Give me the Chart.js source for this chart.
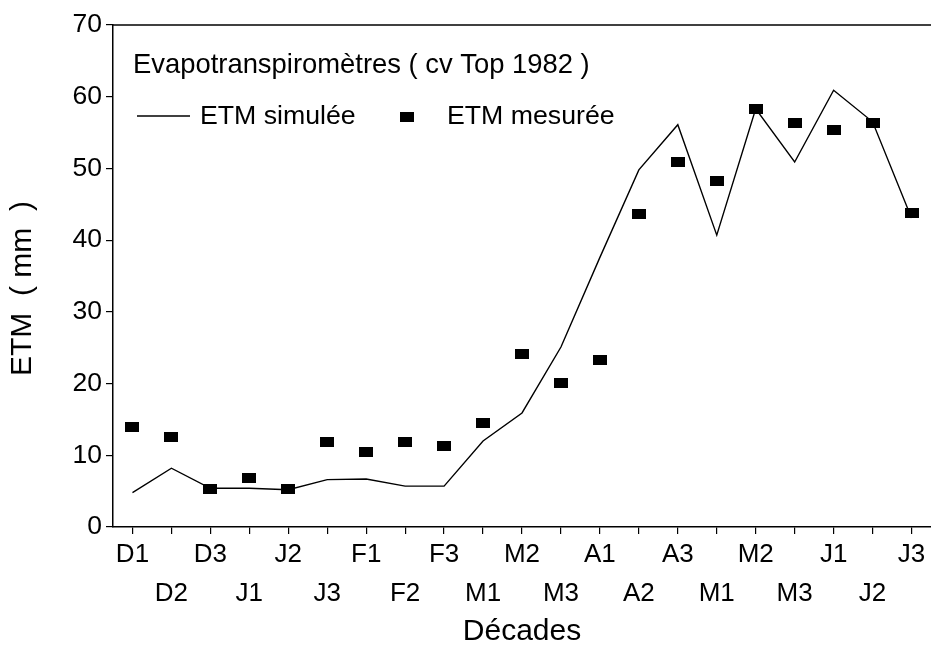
<!DOCTYPE html>
<html><head><meta charset="utf-8">
<script src="https://cdn.jsdelivr.net/npm/chart.js@4/dist/chart.umd.min.js"></script>
<style>html,body{margin:0;padding:0;background:#fff;}</style>
</head><body>
<canvas id="c" width="931" height="647" style="display:block;width:931px;height:647px"></canvas>
<script>
const decades = ['D1','D2','D3','J1','J2','J3','F1','F2','F3','M1','M2','M3','A1','A2','A3','M1','M2','M3','J1','J2','J3'];
const etmSimulee = [4.8, 8.2, 5.4, 5.4, 5.2, 6.6, 6.7, 5.7, 5.7, 12.0, 15.9, 25.1, 37.6, 49.8, 56.1, 40.7, 58.3, 50.9, 60.9, 56.5, 43.1];
const etmMesuree = [13.9, 12.6, 5.3, 6.9, 5.3, 11.8, 10.4, 11.8, 11.3, 14.5, 24.1, 20.1, 23.3, 43.6, 50.9, 48.3, 58.3, 56.3, 55.4, 56.3, 43.8];
const yMin = 0, yMax = 70, yStep = 10;
const titleText = 'Evapotranspiromètres ( cv Top 1982 )';
const legendSim = 'ETM simulée';
const legendMes = 'ETM mesurée';
const xTitle = 'Décades';
const yTitle = 'ETM  ( mm  )   ';

const FONT = "'Liberation Sans', Arial, Helvetica, sans-serif";
Chart.defaults.font.family = FONT;
Chart.defaults.color = '#000';

const sq = document.createElement('canvas');
sq.width = 14; sq.height = 10;
const sctx = sq.getContext('2d');
sctx.fillStyle = '#000'; sctx.fillRect(0, 0, 14, 10);

const overlay = {
  id: 'overlay',
  afterDraw(chart) {
    const {ctx, chartArea: a} = chart;
    ctx.save();
    ctx.strokeStyle = '#000';
    ctx.lineWidth = 1.5;
    ctx.beginPath(); ctx.moveTo(a.left, a.top); ctx.lineTo(a.right, a.top); ctx.stroke();
    ctx.fillStyle = '#000';
    ctx.textBaseline = 'middle';
    ctx.textAlign = 'left';
    ctx.font = '27.4px ' + FONT;
    ctx.fillText(titleText, a.left + 20, a.top + 40);
    ctx.font = '26.7px ' + FONT;
    ctx.lineWidth = 1.3;
    ctx.beginPath(); ctx.moveTo(a.left + 24, a.top + 91); ctx.lineTo(a.left + 77, a.top + 91); ctx.stroke();
    ctx.fillText(legendSim, a.left + 87, a.top + 92);
    ctx.drawImage(sq, a.left + 287, a.top + 87);
    ctx.fillText(legendMes, a.left + 334, a.top + 92);
    ctx.restore();
  }
};

new Chart(document.getElementById('c'), {
  data: {
    labels: decades,
    datasets: [
      { type: 'line', label: legendMes, data: etmMesuree, showLine: false,
        pointStyle: sq, pointRadius: 7, order: 0 },
      { type: 'line', label: legendSim, data: etmSimulee, borderColor: '#000',
        borderWidth: 1.4, pointRadius: 0, tension: 0, fill: false, order: 1 }
    ]
  },
  options: {
    responsive: false,
    animation: false,
    layout: { autoPadding: false, padding: { top: 25, right: 0, bottom: 0, left: 0 } },
    plugins: { legend: { display: false }, tooltip: { enabled: false } },
    scales: {
      x: {
        type: 'category',
        offset: true,
        grid: { display: true, drawOnChartArea: false, drawTicks: true, tickLength: 7, color: '#000', offset: false, lineWidth: 1.2 },
        border: { display: true, color: '#000', width: 1.5 },
        ticks: {
          autoSkip: false, maxRotation: 0, padding: 1,
          font: { size: 26, lineHeight: 1.5 },
          callback: function (value, index) {
            const l = this.getLabelForValue(value);
            return index % 2 === 0 ? l : ['', l];
          }
        },
        title: { display: true, text: xTitle, font: { size: 30, lineHeight: 1.0 }, padding: { top: 3, bottom: 0 } },
        afterFit: s => { s.height = 120; s.paddingLeft = 0; s.paddingRight = 0; }
      },
      y: {
        min: yMin, max: yMax,
        grid: { display: true, drawOnChartArea: false, drawTicks: true, tickLength: 7, color: '#000', lineWidth: 1.2 },
        border: { display: true, color: '#000', width: 1.5 },
        ticks: { stepSize: yStep, padding: 4, font: { size: 26.5 } },
        title: { display: true, text: yTitle, font: { size: 30, lineHeight: 1.0 }, padding: { top: 8, bottom: 0 } },
        afterFit: s => { s.width = 113; }
      }
    }
  },
  plugins: [overlay]
});
</script>
</body></html>
